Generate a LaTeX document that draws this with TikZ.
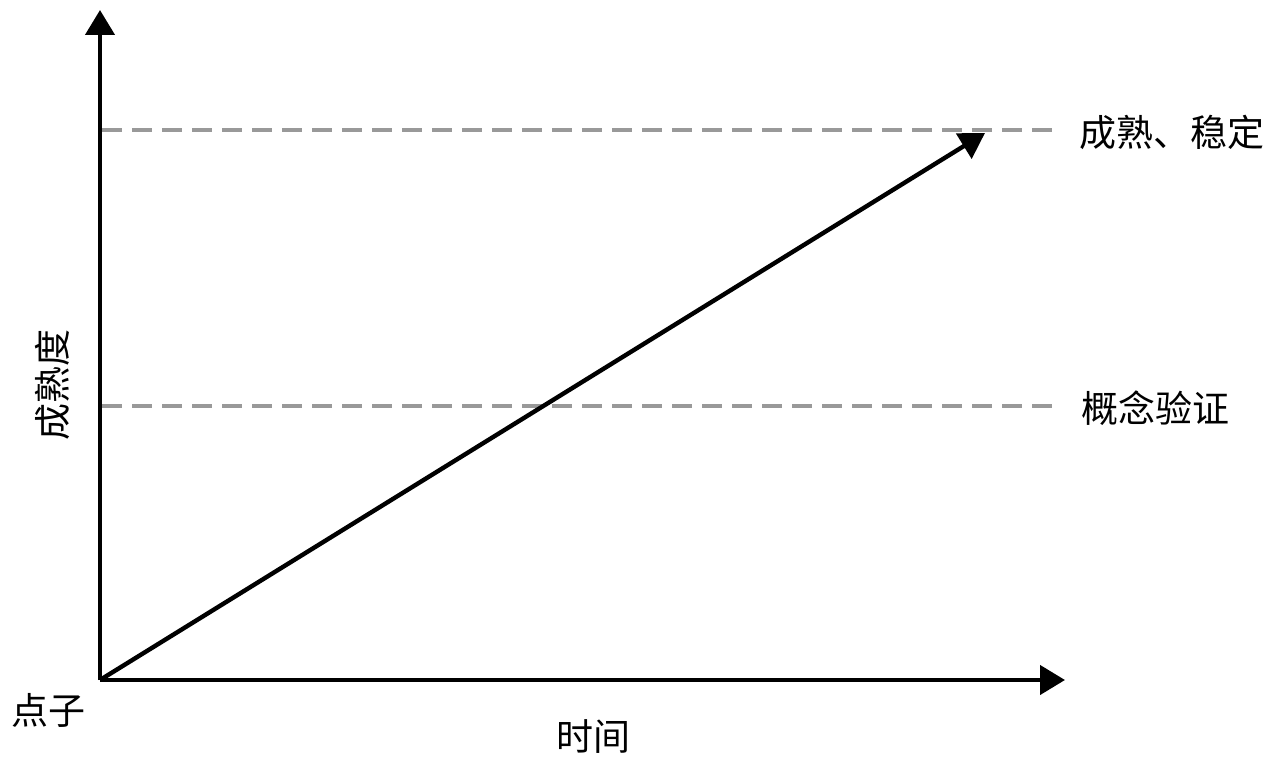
\documentclass[tikz,border=0pt]{standalone}
\usepackage{fontspec}
\newfontfamily\cjk{Noto Sans CJK SC}
\usetikzlibrary{arrows.meta}
\usetikzlibrary{positioning}

\tikzset{
  axisline/.style={-{Triangle[length=12.5pt,width=14.5pt]}, line width=2.2pt},
  levelline/.style={dash pattern=on 10pt off 5pt, line width=2pt, color=black!40},
  label/.style={font=\cjk\fontsize{18.5}{22}\selectfont, inner sep=0pt}
}

\begin{document}
\begin{tikzpicture}[x=0.5pt, y=-0.5pt]
  \useasboundingbox (0,0) rectangle (1280,770);

  \coordinate (origin) at (100,680);
  \coordinate (ytop) at (100,10);
  \coordinate (xend) at (1065,680);
  \coordinate (peak) at (985,133);

  \node [label] (imature) at (1172,132) {成熟、稳定};
  \node [label] (ipoc) at (1155,408) {概念验证};
  \node [label, rotate=90] (iaxis) at (52,385) {成熟度};
  \node [label] (iidea) at (48,710) {点子};
  \node [label] (itime) at (593,737) {时间};

  \draw [levelline] (102,130) -- (1055,130);
  \draw [levelline] (102,406) -- (1055,406);

  \draw [axisline] (origin) -- (ytop);
  \draw [axisline] (origin) -- (xend);
  \draw [axisline] (origin) -- (peak);
\end{tikzpicture}
\end{document}
